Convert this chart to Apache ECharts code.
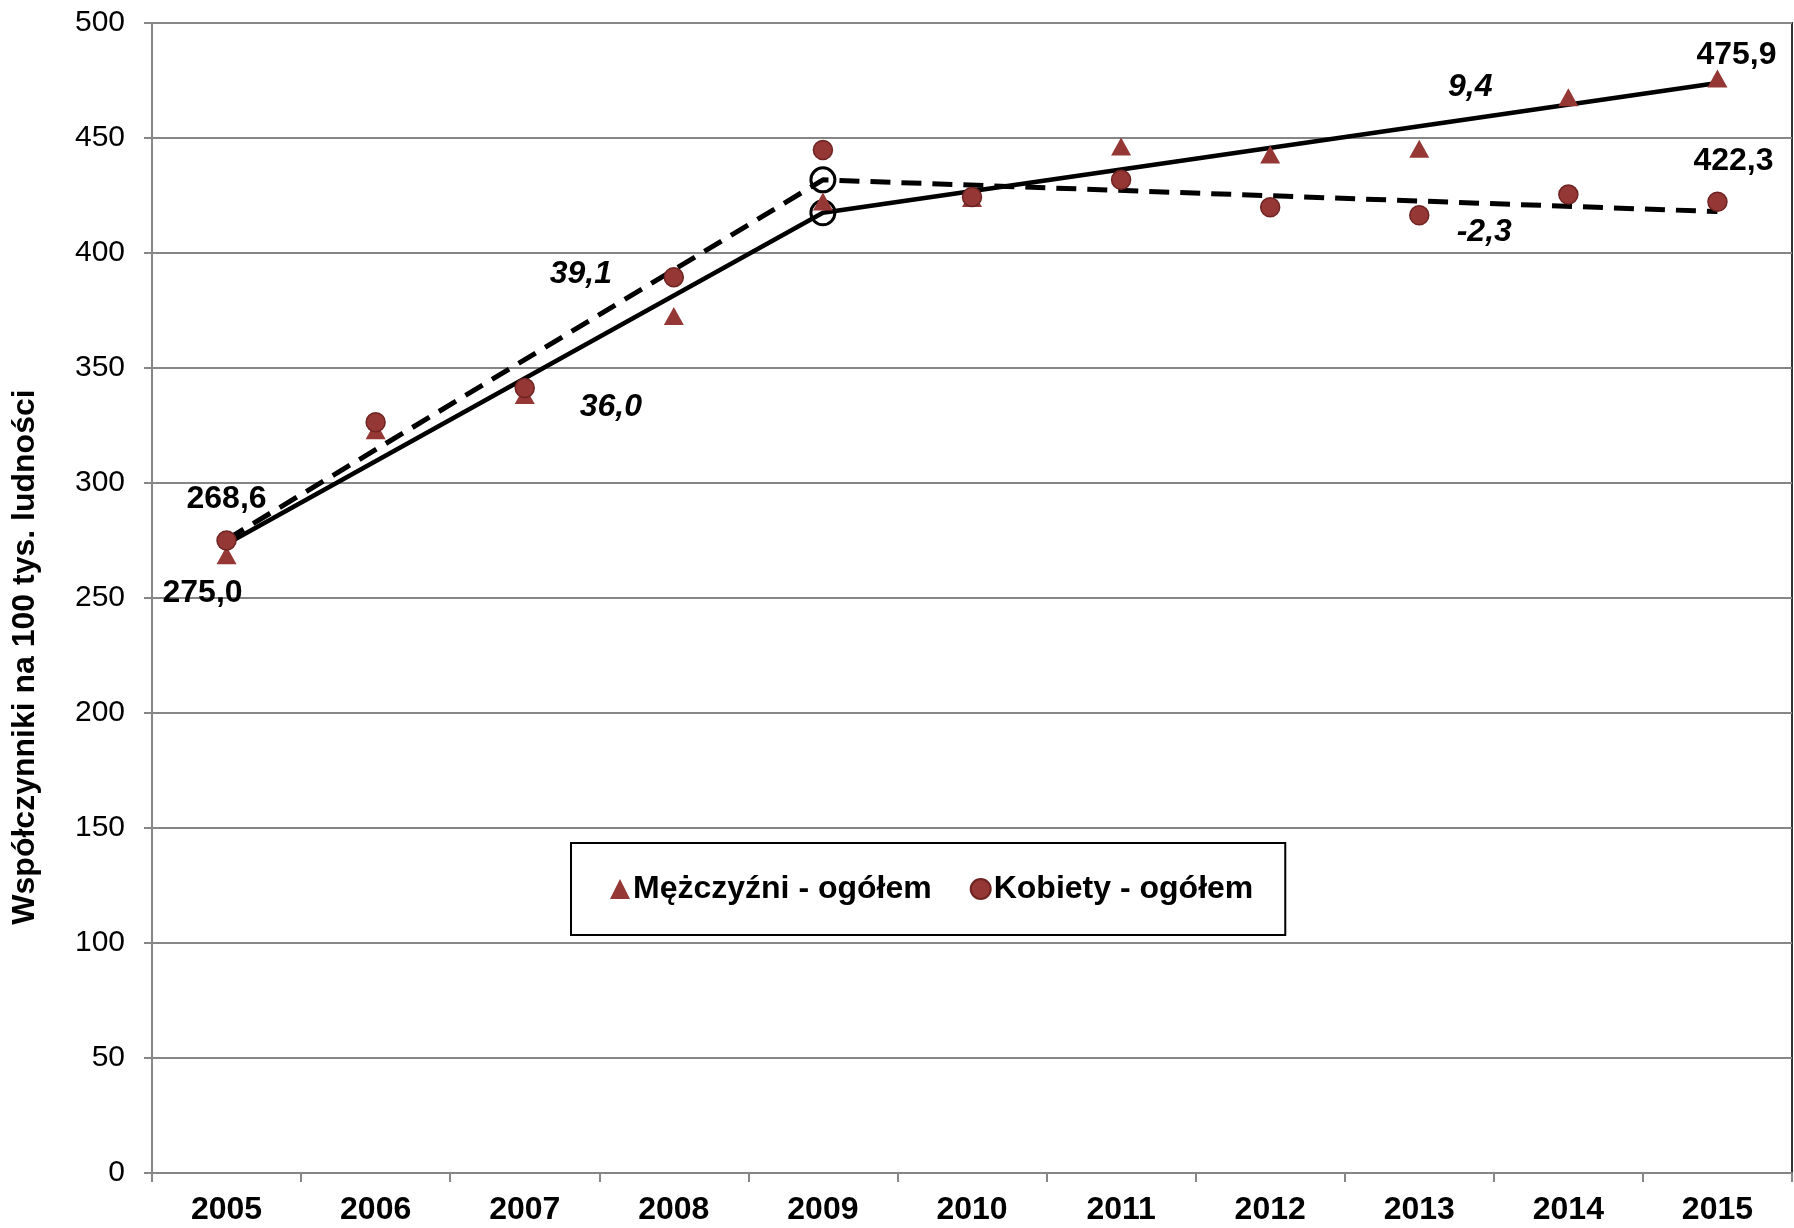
<!DOCTYPE html>
<html>
<head>
<meta charset="utf-8">
<script src="https://cdn.jsdelivr.net/npm/echarts@6/dist/echarts.min.js"></script>
<style>
  html, body { margin: 0; padding: 0; background: #fff; }
  #container { width: 1794px; height: 1228px; }
</style>
</head>
<body>
<div id="container"></div>
<script>
var years = ['2005', '2006', '2007', '2008', '2009', '2010', '2011', '2012', '2013', '2014', '2015'];
var men = [268.6, 322.9, 338.3, 372.6, 422.4, 423.9, 446.3, 442.8, 445.3, 467.7, 475.9];
var women = [275.0, 326.4, 341.3, 389.5, 444.8, 424.4, 431.8, 419.9, 416.4, 425.4, 422.3];
// piecewise trends, break point in 2009
var menTrend = [273.5, null, null, null, 417.5, null, null, null, null, null, 473.9];
var womenTrend = [275.4, null, null, null, 431.8, null, null, null, null, null, 418.0];
var yTicks = [0, 50, 100, 150, 200, 250, 300, 350, 400, 450, 500];

// annotations: [year, value, text, italic, dx]
var notes = [
  ['2005', 293, '268,6', false, 0],
  ['2005', 252, '275,0', false, -24],
  ['2008', 391, '39,1', true, -93],
  ['2008', 333, '36,0', true, -63],
  ['2013', 472, '9,4', true, 51],
  ['2013', 409, '-2,3', true, 65],
  ['2015', 486, '475,9', false, 19],
  ['2015', 440, '422,3', false, 16]
];

var dark = '#953735';
var font = 'Liberation Sans';

var dom = document.getElementById('container');
var myChart = echarts.init(dom, null, { renderer: 'canvas' });

function trendData(arr) {
  return arr.map(function (v, i) {
    if (v === null) return null;
    if (i === 4) return { value: v, symbol: 'circle', symbolSize: 24 };
    return { value: v, symbol: 'none' };
  });
}

var option = {
  backgroundColor: '#fff',
  animation: false,
  textStyle: { fontFamily: font },
  grid: {
    left: 152, right: 2, top: 23, bottom: 55,
    show: true, borderColor: '#333', borderWidth: 2
  },
  legend: {
    left: 571, top: 843,
    padding: [30, 32, 30, 39],
    itemGap: 38,
    itemWidth: 20, itemHeight: 20,
    borderColor: '#000', borderWidth: 2,
    backgroundColor: '#fff',
    data: ['Mężczyźni - ogółem', 'Kobiety - ogółem'],
    textStyle: { fontFamily: font, fontSize: 32, fontWeight: 'bold', color: '#000', padding: [0, 0, 0, -2] }
  },
  graphic: [{
    type: 'text',
    x: 25, y: 657,
    rotation: Math.PI / 2,
    style: {
      text: 'Współczynniki na 100 tys. ludności',
      font: 'bold 32px "Liberation Sans"',
      fill: '#000',
      align: 'center',
      verticalAlign: 'middle'
    }
  }],
  xAxis: {
    type: 'category',
    data: years,
    boundaryGap: true,
    axisLine: { lineStyle: { color: '#868686', width: 2 } },
    axisTick: { show: true, length: 9, lineStyle: { color: '#868686', width: 2 } },
    axisLabel: { fontSize: 32, fontWeight: 'bold', color: '#000', margin: 21 },
    splitLine: { show: false }
  },
  yAxis: {
    type: 'value',
    min: 0, max: 500, interval: 50,
    axisLine: { show: true, lineStyle: { color: '#868686', width: 2 } },
    axisTick: { show: true, length: 8, lineStyle: { color: '#868686', width: 2 } },
    axisLabel: {
      fontSize: 30, color: '#000', margin: 27,
      formatter: function (v) { return yTicks.indexOf(v) >= 0 ? String(v) : ''; }
    },
    splitLine: { show: true, lineStyle: { color: '#868686', width: 2 } }
  },
  series: [
    {
      name: 'trend-m',
      type: 'line',
      data: trendData(menTrend),
      connectNulls: true,
      lineStyle: { color: '#000', width: 4.5 },
      itemStyle: { color: 'rgba(0,0,0,0)', borderColor: '#000', borderWidth: 3 },
      z: 2
    },
    {
      name: 'trend-k',
      type: 'line',
      data: trendData(womenTrend),
      connectNulls: true,
      lineStyle: { color: '#000', width: 5, type: [20, 11] },
      itemStyle: { color: 'rgba(0,0,0,0)', borderColor: '#000', borderWidth: 3 },
      z: 2
    },
    {
      name: 'Mężczyźni - ogółem',
      type: 'scatter',
      data: men,
      symbol: 'triangle',
      symbolSize: [20, 18],
      itemStyle: { color: dark, opacity: 1 },
      z: 3
    },
    {
      name: 'Kobiety - ogółem',
      type: 'scatter',
      data: women,
      symbol: 'circle',
      symbolSize: 19,
      itemStyle: { color: dark, borderColor: '#6e2422', borderWidth: 1.5, opacity: 1 },
      z: 3
    },
    {
      name: 'notes',
      type: 'scatter',
      symbol: 'circle',
      symbolSize: 2,
      silent: true,
      itemStyle: { color: 'rgba(255,255,255,0)', opacity: 1 },
      data: notes.map(function (n) {
        return {
          value: [n[0], n[1]],
          label: {
            show: true,
            position: 'inside',
            offset: [n[4], 0],
            formatter: n[2],
            fontFamily: font,
            fontSize: 32,
            fontWeight: 'bold',
            fontStyle: n[3] ? 'italic' : 'normal',
            color: '#000',
            opacity: 1
          }
        };
      }),
      z: 4
    }
  ]
};

myChart.setOption(option);
window.addEventListener('resize', myChart.resize);
</script>
</body>
</html>
